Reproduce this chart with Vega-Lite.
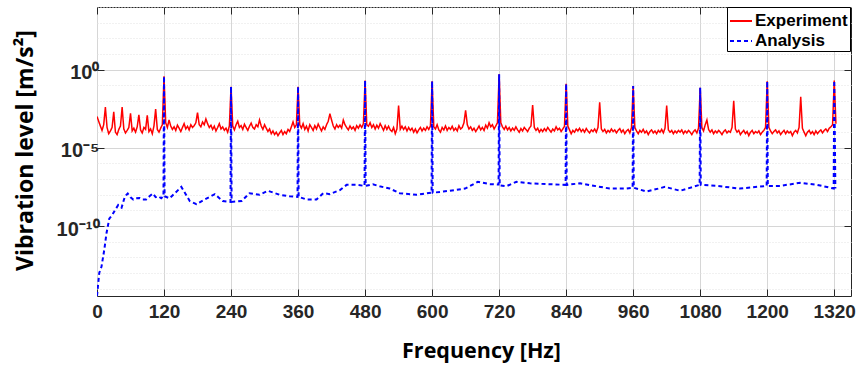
{
  "$schema": "https://vega.github.io/schema/vega-lite/v6.json",
  "autosize": {"type": "none"},
  "padding": {"left": 97, "top": 7, "right": 9, "bottom": 71},
  "width": 754,
  "height": 289,
  "background": "white",
  "datasets": {
    "experiment": [
      {"f":0,"v":1e-3},{"f":3,"v":5e-4},{"f":6,"v":2.5e-4},{"f":9,"v":1.3e-4},{"f":12,"v":3e-4},{"f":15,"v":4e-3},{"f":18,"v":2e-4},{"f":21,"v":8e-5},{"f":24,"v":1.2e-4},{"f":27,"v":2e-4},
      {"f":30,"v":2e-3},{"f":33,"v":1e-4},{"f":36,"v":7e-5},{"f":39,"v":1.5e-4},{"f":42,"v":2.5e-4},{"f":45,"v":4e-3},{"f":48,"v":1.6e-4},{"f":51,"v":9e-5},{"f":54,"v":1.3e-4},{"f":57,"v":2e-4},
      {"f":60,"v":1.6e-3},{"f":63,"v":1.2e-4},{"f":66,"v":1.8e-4},{"f":69,"v":1e-4},{"f":72,"v":2.2e-4},{"f":75,"v":1.3e-3},{"f":78,"v":1.4e-4},{"f":81,"v":9e-5},{"f":84,"v":2e-4},{"f":87,"v":1.5e-4},
      {"f":90,"v":1.2e-3},{"f":93,"v":1.1e-4},{"f":96,"v":1.6e-4},{"f":99,"v":8e-5},{"f":102,"v":2.5e-4},{"f":105,"v":3e-3},{"f":108,"v":1.5e-4},{"f":111,"v":1e-4},{"f":114,"v":1.8e-4},{"f":117,"v":3e-4},
      {"f":120,"v":0.37},{"f":123,"v":4e-4},{"f":126,"v":2e-4},{"f":129,"v":6e-4},{"f":132,"v":2.5e-4},{"f":135,"v":1.5e-4},{"f":138,"v":2.2e-4},{"f":141,"v":1.3e-4},{"f":144,"v":2.8e-4},{"f":147,"v":1.8e-4},
      {"f":150,"v":1.1e-4},{"f":153,"v":2e-4},{"f":156,"v":3.5e-4},{"f":159,"v":1.6e-4},{"f":162,"v":2.4e-4},{"f":165,"v":1.4e-4},{"f":168,"v":3e-4},{"f":171,"v":2e-4},{"f":174,"v":2.6e-4},{"f":177,"v":4e-4},
      {"f":180,"v":1.8e-3},{"f":183,"v":3e-4},{"f":186,"v":2.2e-4},{"f":189,"v":4.5e-4},{"f":192,"v":3e-4},{"f":195,"v":7e-4},{"f":198,"v":3.5e-4},{"f":201,"v":2e-4},{"f":204,"v":2.8e-4},{"f":207,"v":1.5e-4},
      {"f":210,"v":2.4e-4},{"f":213,"v":1.2e-4},{"f":216,"v":2e-4},{"f":219,"v":3.5e-4},{"f":222,"v":1.6e-4},{"f":225,"v":2.2e-4},{"f":228,"v":1.3e-4},{"f":231,"v":1.8e-4},{"f":234,"v":1e-4},{"f":237,"v":2.5e-4},
      {"f":240,"v":0.08},{"f":243,"v":2.5e-4},{"f":246,"v":1.4e-4},{"f":249,"v":3e-4},{"f":252,"v":5e-4},{"f":255,"v":2e-4},{"f":258,"v":2.6e-4},{"f":261,"v":1.5e-4},{"f":264,"v":3.2e-4},{"f":267,"v":2e-4},
      {"f":270,"v":1.3e-4},{"f":273,"v":2.4e-4},{"f":276,"v":3.8e-4},{"f":279,"v":2e-4},{"f":282,"v":1.6e-4},{"f":285,"v":3e-4},{"f":288,"v":2.2e-4},{"f":291,"v":6e-4},{"f":294,"v":2.5e-4},{"f":297,"v":1.5e-4},
      {"f":300,"v":3e-4},{"f":303,"v":1.8e-4},{"f":306,"v":1.1e-4},{"f":309,"v":1.6e-4},{"f":312,"v":8e-5},{"f":315,"v":1.2e-4},{"f":318,"v":7e-5},{"f":321,"v":1e-4},{"f":324,"v":6e-5},{"f":327,"v":9e-5},
      {"f":330,"v":1.3e-4},{"f":333,"v":7e-5},{"f":336,"v":1.1e-4},{"f":339,"v":8e-5},{"f":342,"v":1.5e-4},{"f":345,"v":1.1e-4},{"f":348,"v":2.2e-4},{"f":351,"v":4.5e-4},{"f":354,"v":2e-4},{"f":357,"v":3e-4},
      {"f":360,"v":0.08},{"f":363,"v":3e-4},{"f":366,"v":1.8e-4},{"f":369,"v":3.5e-4},{"f":372,"v":1.5e-4},{"f":375,"v":2.4e-4},{"f":378,"v":1.2e-4},{"f":381,"v":3e-4},{"f":384,"v":2e-4},{"f":387,"v":1.3e-4},
      {"f":390,"v":2.6e-4},{"f":393,"v":1.6e-4},{"f":396,"v":3.3e-4},{"f":399,"v":2e-4},{"f":402,"v":1.2e-4},{"f":405,"v":2.2e-4},{"f":408,"v":1.5e-4},{"f":411,"v":3e-4},{"f":414,"v":5e-4},{"f":417,"v":1.5e-3},
      {"f":420,"v":6e-4},{"f":423,"v":2.5e-4},{"f":426,"v":1.6e-4},{"f":429,"v":3e-4},{"f":432,"v":2e-4},{"f":435,"v":2.8e-4},{"f":438,"v":1.8e-4},{"f":441,"v":6e-4},{"f":444,"v":3e-4},{"f":447,"v":2e-4},
      {"f":450,"v":1.4e-4},{"f":453,"v":2.5e-4},{"f":456,"v":1.6e-4},{"f":459,"v":2.2e-4},{"f":462,"v":1.3e-4},{"f":465,"v":2.6e-4},{"f":468,"v":1.8e-4},{"f":471,"v":3e-4},{"f":474,"v":2e-4},{"f":477,"v":3.5e-4},
      {"f":480,"v":0.2},{"f":483,"v":3e-4},{"f":486,"v":2.4e-4},{"f":489,"v":4e-4},{"f":492,"v":2e-4},{"f":495,"v":3e-4},{"f":498,"v":1.6e-4},{"f":501,"v":2.8e-4},{"f":504,"v":1.8e-4},{"f":507,"v":3.5e-4},
      {"f":510,"v":2.2e-4},{"f":513,"v":1.3e-4},{"f":516,"v":2.6e-4},{"f":519,"v":1.5e-4},{"f":522,"v":2.4e-4},{"f":525,"v":1.4e-4},{"f":528,"v":1.1e-4},{"f":531,"v":2e-4},{"f":534,"v":8e-5},{"f":537,"v":1.6e-4},
      {"f":540,"v":5e-3},{"f":543,"v":1.5e-4},{"f":546,"v":2.4e-4},{"f":549,"v":1.5e-4},{"f":552,"v":2.2e-4},{"f":555,"v":1.2e-4},{"f":558,"v":2e-4},{"f":561,"v":1.3e-4},{"f":564,"v":1.8e-4},{"f":567,"v":1e-4},
      {"f":570,"v":1.6e-4},{"f":573,"v":9e-5},{"f":576,"v":1.4e-4},{"f":579,"v":2e-4},{"f":582,"v":1.2e-4},{"f":585,"v":1.8e-4},{"f":588,"v":1.3e-4},{"f":591,"v":2.2e-4},{"f":594,"v":1.5e-4},{"f":597,"v":2.5e-4},
      {"f":600,"v":0.18},{"f":603,"v":2.2e-4},{"f":606,"v":1.6e-4},{"f":609,"v":3e-4},{"f":612,"v":1.4e-4},{"f":615,"v":1e-4},{"f":618,"v":2e-4},{"f":621,"v":1.4e-4},{"f":624,"v":2.5e-4},{"f":627,"v":1.3e-4},
      {"f":630,"v":2e-4},{"f":633,"v":1.5e-4},{"f":636,"v":2.4e-4},{"f":639,"v":1.3e-4},{"f":642,"v":1.8e-4},{"f":645,"v":1.2e-4},{"f":648,"v":2.6e-4},{"f":651,"v":1.6e-4},{"f":654,"v":2e-4},{"f":657,"v":4e-4},
      {"f":660,"v":2.5e-3},{"f":663,"v":3e-4},{"f":666,"v":1.6e-4},{"f":669,"v":2.2e-4},{"f":672,"v":1.3e-4},{"f":675,"v":1.8e-4},{"f":678,"v":1.1e-4},{"f":681,"v":1.6e-4},{"f":684,"v":2.5e-4},{"f":687,"v":1.4e-4},
      {"f":690,"v":2e-4},{"f":693,"v":1.3e-4},{"f":696,"v":2.8e-4},{"f":699,"v":1.8e-4},{"f":702,"v":4e-4},{"f":705,"v":2.2e-4},{"f":708,"v":3e-4},{"f":711,"v":1.6e-4},{"f":714,"v":2.5e-4},{"f":717,"v":4e-4},
      {"f":720,"v":0.5},{"f":723,"v":4e-4},{"f":726,"v":2.2e-4},{"f":729,"v":1.5e-4},{"f":732,"v":2.4e-4},{"f":735,"v":1.4e-4},{"f":738,"v":2e-4},{"f":741,"v":1.2e-4},{"f":744,"v":1.8e-4},{"f":747,"v":1.3e-4},
      {"f":750,"v":2.2e-4},{"f":753,"v":1.4e-4},{"f":756,"v":1e-4},{"f":759,"v":1.7e-4},{"f":762,"v":1.2e-4},{"f":765,"v":2e-4},{"f":768,"v":1.5e-4},{"f":771,"v":1.1e-4},{"f":774,"v":1.8e-4},{"f":777,"v":2.5e-4},
      {"f":780,"v":5.5e-3},{"f":783,"v":2e-4},{"f":786,"v":1.3e-4},{"f":789,"v":1.8e-4},{"f":792,"v":1e-4},{"f":795,"v":1.5e-4},{"f":798,"v":1.1e-4},{"f":801,"v":1.7e-4},{"f":804,"v":1.2e-4},{"f":807,"v":2e-4},
      {"f":810,"v":1.4e-4},{"f":813,"v":1e-4},{"f":816,"v":1.6e-4},{"f":819,"v":1.2e-4},{"f":822,"v":2.2e-4},{"f":825,"v":1.4e-4},{"f":828,"v":1.8e-4},{"f":831,"v":1.1e-4},{"f":834,"v":1.6e-4},{"f":837,"v":2.4e-4},
      {"f":840,"v":0.125},{"f":843,"v":2.5e-4},{"f":846,"v":1.4e-4},{"f":849,"v":8e-5},{"f":852,"v":1.3e-4},{"f":855,"v":1e-4},{"f":858,"v":1.6e-4},{"f":861,"v":1.2e-4},{"f":864,"v":1.8e-4},{"f":867,"v":1.1e-4},
      {"f":870,"v":1.5e-4},{"f":873,"v":1e-4},{"f":876,"v":1.7e-4},{"f":879,"v":1.2e-4},{"f":882,"v":9e-5},{"f":885,"v":1.4e-4},{"f":888,"v":1.1e-4},{"f":891,"v":1.6e-4},{"f":894,"v":1e-4},{"f":897,"v":2e-4},
      {"f":900,"v":8e-3},{"f":903,"v":1.6e-4},{"f":906,"v":1.1e-4},{"f":909,"v":1.5e-4},{"f":912,"v":9e-5},{"f":915,"v":1.3e-4},{"f":918,"v":1e-4},{"f":921,"v":1.6e-4},{"f":924,"v":1.1e-4},{"f":927,"v":1.4e-4},
      {"f":930,"v":9e-5},{"f":933,"v":1.3e-4},{"f":936,"v":1.7e-4},{"f":939,"v":1e-4},{"f":942,"v":1.4e-4},{"f":945,"v":8e-5},{"f":948,"v":1.2e-4},{"f":951,"v":1.5e-4},{"f":954,"v":9e-5},{"f":957,"v":2e-4},
      {"f":960,"v":0.09},{"f":963,"v":2e-4},{"f":966,"v":1.2e-4},{"f":969,"v":8e-5},{"f":972,"v":1.3e-4},{"f":975,"v":1e-4},{"f":978,"v":1.5e-4},{"f":981,"v":9e-5},{"f":984,"v":1.2e-4},{"f":987,"v":7e-5},
      {"f":990,"v":1.1e-4},{"f":993,"v":1.4e-4},{"f":996,"v":9e-5},{"f":999,"v":1.2e-4},{"f":1002,"v":8e-5},{"f":1005,"v":1.3e-4},{"f":1008,"v":1e-4},{"f":1011,"v":1.5e-4},{"f":1014,"v":9e-5},{"f":1017,"v":1.8e-4},
      {"f":1020,"v":5e-3},{"f":1023,"v":1.4e-4},{"f":1026,"v":1e-4},{"f":1029,"v":1.3e-4},{"f":1032,"v":8e-5},{"f":1035,"v":1.2e-4},{"f":1038,"v":9e-5},{"f":1041,"v":1.3e-4},{"f":1044,"v":1e-4},{"f":1047,"v":1.4e-4},
      {"f":1050,"v":8e-5},{"f":1053,"v":1.2e-4},{"f":1056,"v":9e-5},{"f":1059,"v":1.3e-4},{"f":1062,"v":1e-4},{"f":1065,"v":7e-5},{"f":1068,"v":1.1e-4},{"f":1071,"v":1.4e-4},{"f":1074,"v":9e-5},{"f":1077,"v":1.8e-4},
      {"f":1080,"v":0.07},{"f":1083,"v":2e-4},{"f":1086,"v":1.2e-4},{"f":1089,"v":3e-4},{"f":1092,"v":6e-4},{"f":1095,"v":1.5e-4},{"f":1098,"v":1e-4},{"f":1101,"v":1.4e-4},{"f":1104,"v":8e-5},{"f":1107,"v":1.2e-4},
      {"f":1110,"v":9e-5},{"f":1113,"v":1.3e-4},{"f":1116,"v":1e-4},{"f":1119,"v":7e-5},{"f":1122,"v":1.1e-4},{"f":1125,"v":1.4e-4},{"f":1128,"v":9e-5},{"f":1131,"v":1.2e-4},{"f":1134,"v":1e-4},{"f":1137,"v":2e-4},
      {"f":1140,"v":1e-2},{"f":1143,"v":1.6e-4},{"f":1146,"v":1e-4},{"f":1149,"v":1.3e-4},{"f":1152,"v":7e-5},{"f":1155,"v":1e-4},{"f":1158,"v":1.3e-4},{"f":1161,"v":8e-5},{"f":1164,"v":1.1e-4},{"f":1167,"v":6e-5},
      {"f":1170,"v":1e-4},{"f":1173,"v":1.3e-4},{"f":1176,"v":8e-5},{"f":1179,"v":1.1e-4},{"f":1182,"v":9e-5},{"f":1185,"v":1.2e-4},{"f":1188,"v":7e-5},{"f":1191,"v":1e-4},{"f":1194,"v":1.3e-4},{"f":1197,"v":2e-4},
      {"f":1200,"v":0.18},{"f":1203,"v":2e-4},{"f":1206,"v":1.2e-4},{"f":1209,"v":8e-5},{"f":1212,"v":1.1e-4},{"f":1215,"v":1.4e-4},{"f":1218,"v":9e-5},{"f":1221,"v":1.2e-4},{"f":1224,"v":7e-5},{"f":1227,"v":1e-4},
      {"f":1230,"v":1.3e-4},{"f":1233,"v":8e-5},{"f":1236,"v":1.2e-4},{"f":1239,"v":9e-5},{"f":1242,"v":1.1e-4},{"f":1245,"v":6e-5},{"f":1248,"v":1e-4},{"f":1251,"v":1.3e-4},{"f":1254,"v":9e-5},{"f":1257,"v":2e-4},
      {"f":1260,"v":1.8e-2},{"f":1263,"v":1.8e-4},{"f":1266,"v":1e-4},{"f":1269,"v":6e-5},{"f":1272,"v":1e-4},{"f":1275,"v":1.3e-4},{"f":1278,"v":8e-5},{"f":1281,"v":1.1e-4},{"f":1284,"v":7e-5},{"f":1287,"v":1.2e-4},
      {"f":1290,"v":8e-5},{"f":1293,"v":1.1e-4},{"f":1296,"v":1.4e-4},{"f":1299,"v":9e-5},{"f":1302,"v":1.3e-4},{"f":1305,"v":1.6e-4},{"f":1308,"v":1.1e-4},{"f":1311,"v":1.8e-4},{"f":1314,"v":2.2e-4},{"f":1317,"v":3e-4},
      {"f":1320,"v":0.2},{"f":1323,"v":3.5e-4}
    ],
    "analysis": [
      {"f":0,"v":3.5e-15},{"f":4,"v":1e-13},{"f":8,"v":2.5e-13},{"f":13,"v":3e-12},{"f":17,"v":3.5e-11},{"f":22,"v":3e-10},{"f":27,"v":5e-10},{"f":32,"v":1e-9},{"f":38,"v":2.2e-9},{"f":44,"v":1.5e-9},
      {"f":50,"v":8e-9},{"f":55,"v":1.2e-8},{"f":60,"v":7e-9},{"f":65,"v":5e-9},{"f":70,"v":6e-9},{"f":76,"v":6.3e-9},{"f":82,"v":5e-9},{"f":88,"v":5e-9},{"f":94,"v":8e-9},{"f":100,"v":1.2e-8},
      {"f":105,"v":7e-9},{"f":110,"v":8e-9},{"f":115,"v":6e-9},{"f":119,"v":8e-9},{"f":120,"v":0.37},{"f":121,"v":8e-9},
      {"f":130,"v":5.9e-9},{"f":151,"v":3.2e-8},{"f":166,"v":4e-9},{"f":178,"v":2.5e-9},{"f":193,"v":5e-9},{"f":211,"v":1.1e-8},{"f":225,"v":4e-9},{"f":239,"v":3.5e-9},{"f":240,"v":0.08},{"f":241,"v":3.5e-9},
      {"f":259,"v":4e-9},{"f":273,"v":1.26e-8},{"f":291,"v":1e-8},{"f":306,"v":1.8e-8},{"f":327,"v":1e-8},{"f":345,"v":8e-9},{"f":359,"v":7.4e-9},{"f":360,"v":0.08},{"f":361,"v":7.4e-9},
      {"f":375,"v":5e-9},{"f":393,"v":5e-9},{"f":405,"v":1.26e-8},{"f":417,"v":1.1e-8},{"f":435,"v":2e-8},{"f":447,"v":4.3e-8},{"f":465,"v":4.3e-8},{"f":479,"v":3.7e-8},{"f":480,"v":0.2},{"f":481,"v":3.7e-8},
      {"f":494,"v":4.7e-8},{"f":506,"v":3.5e-8},{"f":524,"v":2.5e-8},{"f":542,"v":1.26e-8},{"f":572,"v":1e-8},{"f":599,"v":1.35e-8},{"f":600,"v":0.18},{"f":601,"v":1.35e-8},
      {"f":620,"v":1.6e-8},{"f":641,"v":2e-8},{"f":659,"v":2.5e-8},{"f":682,"v":6.8e-8},{"f":703,"v":4.8e-8},{"f":719,"v":4.5e-8},{"f":720,"v":0.5},{"f":721,"v":4e-8},
      {"f":733,"v":3.5e-8},{"f":751,"v":6.8e-8},{"f":775,"v":5.4e-8},{"f":805,"v":4.8e-8},{"f":839,"v":4.3e-8},{"f":840,"v":0.125},{"f":841,"v":4.3e-8},
      {"f":865,"v":5.4e-8},{"f":889,"v":3.8e-8},{"f":918,"v":2.5e-8},{"f":948,"v":2.5e-8},{"f":959,"v":2.8e-8},{"f":960,"v":0.09},{"f":961,"v":2.8e-8},
      {"f":984,"v":1.6e-8},{"f":1017,"v":3.2e-8},{"f":1044,"v":1.8e-8},{"f":1079,"v":4.3e-8},{"f":1080,"v":0.07},{"f":1081,"v":4.3e-8},
      {"f":1109,"v":3.7e-8},{"f":1151,"v":2.5e-8},{"f":1199,"v":3.7e-8},{"f":1200,"v":0.18},{"f":1201,"v":3.7e-8},
      {"f":1223,"v":3.7e-8},{"f":1259,"v":5.8e-8},{"f":1288,"v":4.4e-8},{"f":1319,"v":2.5e-8},{"f":1320,"v":0.2},{"f":1322,"v":2.5e-8}
    ]
  },
  "layer": [
    {
      "data": {"name": "experiment"},
      "mark": {"type": "line", "strokeWidth": 1.5, "clip": true, "interpolate": "linear"},
      "encoding": {
        "x": {
          "field": "f", "type": "quantitative",
          "scale": {"domain": [0, 1350], "nice": false, "zero": false},
          "axis": {
            "orient": "bottom",
            "values": [0,120,240,360,480,600,720,840,960,1080,1200,1320],
            "format": "d",
            "title": "Frequency [Hz]",
            "titleFont": "Open Sans", "titleFontSize": 21.5, "titleFontWeight": "bold", "titleColor": "#000000",
            "titleBaseline": "alphabetic", "titleX": 384, "titleY": 61, "titleAnchor": "start", "titleAlign": "center",
            "labelFont": "Liberation Sans", "labelFontSize": 19, "labelFontWeight": "bold", "labelColor": "#262626",
            "labelPadding": 13, "labelFlush": false,
            "tickSize": -7, "tickColor": "#262626",
            "grid": true, "gridColor": "#d6d6d6", "gridWidth": 1,
            "domain": false
          }
        },
        "y": {
          "field": "v", "type": "quantitative",
          "scale": {"type": "log", "domain": [3.4e-15, 10000], "nice": false},
          "axis": {
            "orient": "left",
            "values": [1e-14,1e-13,1e-12,1e-11,1e-10,1e-9,1e-8,1e-7,1e-6,1e-5,1e-4,1e-3,1e-2,1e-1,1,10,100,1000,10000],
            "labelExpr": "round(log(datum.value)/LN10) == 0 ? '10⁰' : (round(log(datum.value)/LN10) == -5 ? '10⁻⁵' : (round(log(datum.value)/LN10) == -10 ? '10⁻¹⁰' : ''))",
            "title": "Vibration level [m/s²]",
            "titleFont": "Open Sans", "titleFontSize": 23, "titleFontWeight": "bold", "titleColor": "#000000",
            "titleBaseline": "alphabetic", "titleX": -65, "titleY": 143, "titleAngle": -90, "titleAlign": "center",
            "labelFont": "Liberation Sans", "labelFontSize": 20, "labelFontWeight": "bold", "labelColor": "#262626",
            "labelPadding": 5, "labelOffset": 3, "labelOverlap": false,
            "tickSize": -7, "tickColor": "#262626",
            "tickOpacity": {"condition": {"test": "round(log(datum.value)/LN10) == 0 || round(log(datum.value)/LN10) == -5 || round(log(datum.value)/LN10) == -10", "value": 1}, "value": 0},
            "grid": true,
            "gridDash": {"condition": {"test": "round(log(datum.value)/LN10) == 0 || round(log(datum.value)/LN10) == -5 || round(log(datum.value)/LN10) == -10", "value": []}, "value": [1, 2]},
            "gridColor": {"condition": {"test": "round(log(datum.value)/LN10) == 0 || round(log(datum.value)/LN10) == -5 || round(log(datum.value)/LN10) == -10", "value": "#d6d6d6"}, "value": "#e3e3e3"},
            "domain": false
          }
        },
        "color": {"datum": "Experiment", "type": "nominal",
          "scale": {"domain": ["Experiment", "Analysis"], "range": ["#ff0000", "#0000ff"]},
          "legend": {
            "title": null, "orient": "none", "legendX": 630, "legendY": 0,
            "symbolType": "stroke", "symbolSize": 484, "symbolStrokeWidth": 2,
            "labelFont": "Liberation Sans", "labelFontSize": 17, "labelFontWeight": "bold", "labelColor": "#000000",
            "labelOffset": 2, "padding": 2, "rowPadding": 0,
            "fillColor": "#ffffff", "strokeColor": "#000000"
          }
        },
        "strokeDash": {"datum": "Experiment", "type": "nominal",
          "scale": {"domain": ["Experiment", "Analysis"], "range": [[1, 0], [4, 3]]},
          "legend": {
            "title": null, "orient": "none", "legendX": 630, "legendY": 0,
            "symbolType": "stroke", "symbolSize": 484, "symbolStrokeWidth": 2,
            "labelFont": "Liberation Sans", "labelFontSize": 17, "labelFontWeight": "bold", "labelColor": "#000000",
            "labelOffset": 2, "padding": 2, "rowPadding": 0,
            "fillColor": "#ffffff", "strokeColor": "#000000"
          }
        }
      }
    },
    {
      "data": {"name": "analysis"},
      "mark": {"type": "line", "strokeWidth": 2, "clip": true},
      "encoding": {
        "x": {
          "field": "f", "type": "quantitative",
          "axis": {"orient": "top", "values": [0,120,240,360,480,600,720,840,960,1080,1200,1320], "labels": false, "title": null, "grid": false, "domain": false, "tickSize": -7, "tickColor": "#262626"}
        },
        "y": {
          "field": "v", "type": "quantitative",
          "axis": {"orient": "right", "values": [1e-10, 1e-5, 1], "labels": false, "title": null, "grid": false, "domain": false, "tickSize": -7, "tickColor": "#262626"}
        },
        "color": {"datum": "Analysis", "type": "nominal"},
        "strokeDash": {"datum": "Analysis", "type": "nominal"}
      }
    }
  ],
  "resolve": {"axis": {"x": "independent", "y": "independent"}},
  "config": {
    "view": {"stroke": "#262626", "strokeWidth": 1}
  }
}
